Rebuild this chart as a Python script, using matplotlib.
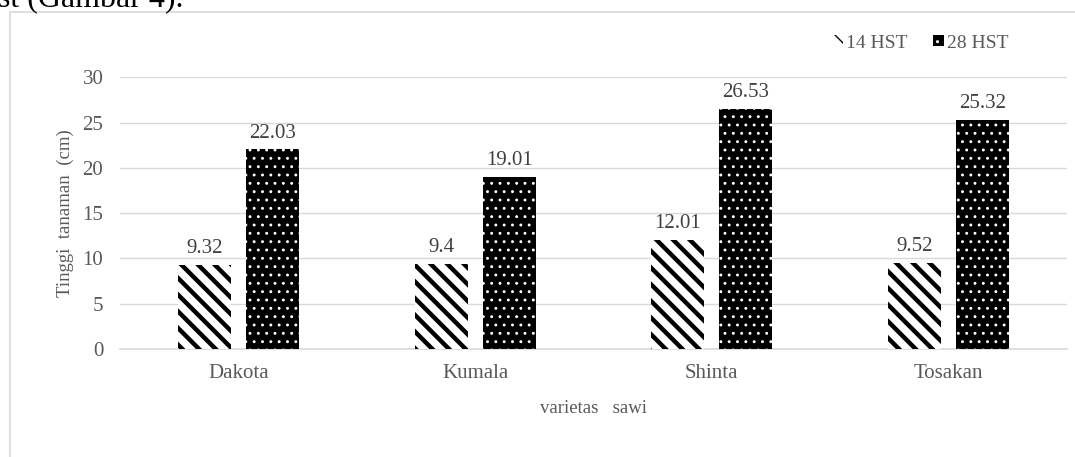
import matplotlib
matplotlib.use("Agg")
import matplotlib.pyplot as plt
from matplotlib.patches import Rectangle
import numpy as np

categories = ["Dakota", "Kumala", "Shinta", "Tosakan"]
hst14 = [9.32, 9.4, 12.01, 9.52]
hst28 = [22.03, 19.01, 26.53, 25.32]
series_names = ["14 HST", "28 HST"]
yticks = [0, 5, 10, 15, 20, 25, 30]

plt.rcParams['font.family'] = ['Liberation Serif', 'DejaVu Serif']

W, H = 1075, 457
fig = plt.figure(figsize=(W / 100, H / 100), dpi=100)
fig.patch.set_facecolor('white')

# outer chart frame (light gray)
fig.add_artist(Rectangle((9.5 / W, -0.1), 1.2, 1 - 12 / H + 0.1, transform=fig.transFigure,
                         fill=False, edgecolor='#d9d9d9', linewidth=1.2))
# cropped caption text at the top
fig.text(-2 / W, 1 - 7 / H, "st (Gambar 4).", fontsize=23, color='black', va='baseline', ha='left')

left, right = 120 / W, 1067 / W
bottom, top = 1 - 349 / H, 1 - 77.3 / H
ax = fig.add_axes([left, bottom, right - left, top - bottom])

x = np.arange(len(categories))
bw = 0.224
off = 0.1436

b1 = ax.bar(x - off, hst14, bw, facecolor='white', edgecolor='black', linewidth=0, hatch='\\\\', zorder=3)
b2 = ax.bar(x + off, hst28, bw, facecolor='black', edgecolor='white', linewidth=0, hatch='..', zorder=3)
for p in b1:
    if hasattr(p, 'set_hatch_linewidth'):
        p.set_hatch_linewidth(3.2)
for p in b2:
    if hasattr(p, 'set_hatch_linewidth'):
        p.set_hatch_linewidth(0.9)

lab_kw = dict(ha='center', va='bottom', fontsize=15, color='#404040')
for xi, v in zip(x, hst14):
    ax.annotate(f"{v:g}", (xi - off, v), xytext=(0, 5), textcoords='offset points', **lab_kw)
for xi, v in zip(x, hst28):
    ax.annotate(f"{v:.2f}", (xi + off, v), xytext=(0, 5), textcoords='offset points', **lab_kw)

ax.set_xlim(-0.5, len(categories) - 0.5)
ax.set_ylim(0, 30)
ax.set_yticks(yticks)
ax.set_yticklabels([str(t) for t in yticks])
ax.set_xticks(x)
ax.set_xticklabels(categories)
ax.tick_params(axis='both', length=0, labelsize=15, labelcolor='#595959')
ax.tick_params(axis='y', pad=12)
ax.tick_params(axis='x', pad=11)
ax.grid(axis='y', color='#d9d9d9', linewidth=1.0, zorder=0)
ax.set_axisbelow(True)
for s in ['top', 'right', 'left']:
    ax.spines[s].set_visible(False)
ax.spines['bottom'].set_color('#d9d9d9')
ax.spines['bottom'].set_linewidth(1.2)

ax.set_ylabel("Tinggi  tanaman  (cm)", fontsize=13.5, color='#595959', labelpad=6)
ax.set_xlabel("varietas   sawi", fontsize=13.5, color='#595959', labelpad=12)

leg = ax.legend([b1[0], b2[0]], series_names, loc='center right', bbox_to_anchor=(1018 / W, 1 - 43 / H),
                bbox_transform=fig.transFigure, ncol=2, frameon=False, fontsize=14,
                handlelength=0.55, handleheight=0.55, handletextpad=0.15, columnspacing=1.3,
                labelcolor='#595959', borderpad=0)

fig.savefig("out.png", dpi=100, facecolor='white')
